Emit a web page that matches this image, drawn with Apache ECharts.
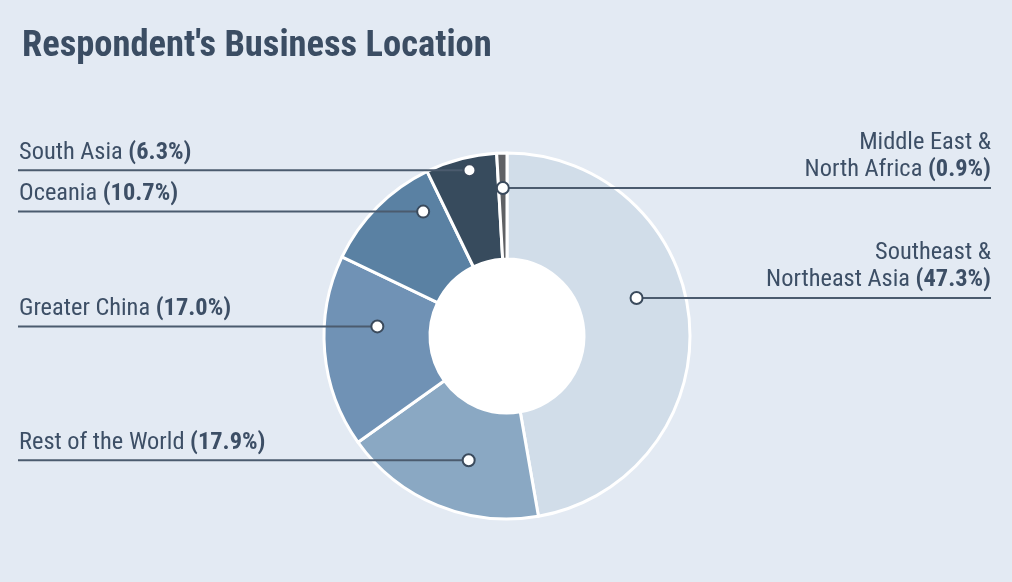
<!DOCTYPE html>
<html><head><meta charset="utf-8">
<script src="https://cdn.jsdelivr.net/npm/echarts@6/dist/echarts.min.js"></script>
<style>html,body{margin:0;padding:0;background:#e3eaf3;}#c{width:1012px;height:582px;}</style>
</head><body><div id="c"></div>
<script>
// ---- data ----
const titleText = "Respondent's Business Location";
const categories = ['Southeast &\nNortheast Asia', 'Rest of the World', 'Greater China', 'Oceania', 'South Asia', 'Middle East &\nNorth Africa'];
const shares = [47.3, 17.9, 17.0, 10.7, 6.3, 0.9];
const sliceColors = ['#d1dde9', '#8aa8c3', '#7092b5', '#5a81a3', '#374b5d', '#5f6165'];

// ---- annotation placement (style/layout, not data) ----
const annSide = ['right', 'left', 'left', 'left', 'left', 'right'];
const annT = [0.433, 0.42, 0.65, 0.79, 0.58, 0.5];
const annR = [135, 130, 130, 150, 170, 148];

const FONT = "'Roboto Condensed','Liberation Sans Narrow','DejaVu Sans Condensed',sans-serif";
const TEXT = '#3d4f66';
const LINE = '#4b5b6e';

const chart = echarts.init(document.getElementById('c'), null, {renderer: 'canvas'});
const CX = 507, CY = 336, R0 = 77, R1 = 183;

chart.setOption({
  backgroundColor: '#e3eaf3',
  animation: false,
  title: {
    text: titleText, left: 17, top: 23,
    textStyle: {fontFamily: FONT, fontSize: 36.5, fontWeight: 'bold', color: '#3b4d63'}
  },
  series: [{
    type: 'pie',
    startAngle: 90,
    clockwise: true,
    center: [CX, CY],
    radius: [R0, R1],
    silent: true,
    label: {show: false},
    labelLine: {show: false},
    itemStyle: {borderColor: '#ffffff', borderWidth: 3},
    data: categories.map((c, i) => ({name: c, value: shares[i], itemStyle: {color: sliceColors[i]}}))
  }]
});

function build() {
  const data = chart.getModel().getSeriesByIndex(0).getData();
  const g = [];
  g.push({type: 'circle', shape: {cx: CX, cy: CY, r: R0 + 2}, style: {fill: '#ffffff'}, z: 1, silent: true});
  for (let i = 0; i < categories.length; i++) {
    const L = data.getItemLayout(i);
    const a = L.startAngle + annT[i] * (L.endAngle - L.startAngle);
    const dx = L.cx + annR[i] * Math.cos(a);
    const dy = L.cy + annR[i] * Math.sin(a);
    const right = annSide[i] === 'right';
    const xEnd = right ? 991 : 18;
    g.push({type: 'line', shape: {x1: xEnd, y1: dy, x2: dx, y2: dy},
      style: {stroke: LINE, lineWidth: 2}, z: 10, silent: true});
    g.push({type: 'circle', shape: {cx: dx, cy: dy, r: 6},
      style: {fill: '#ffffff', stroke: '#3a4a5c', lineWidth: 2}, z: 11, silent: true});
    const parts = categories[i].split('\n');
    const last = parts.pop();
    let txt = parts.map(p => '{n|' + p + '}').join('\n');
    txt += (parts.length ? '\n' : '') + '{n|' + last + ' }{b|(' + shares[i].toFixed(1) + '%)}';
    g.push({type: 'text', x: xEnd + (right ? 0 : 1), y: dy - 4, z: 10, silent: true,
      style: {
        text: txt, align: right ? 'right' : 'left', verticalAlign: 'bottom',
        fontFamily: FONT, fontSize: 24.4, fill: TEXT,
        rich: {
          n: {fontFamily: FONT, fontSize: 24.4, color: TEXT, lineHeight: 27.5},
          b: {fontFamily: FONT, fontSize: 24.4, fontWeight: 'bold', color: TEXT, lineHeight: 27.5}
        }
      }});
  }
  chart.setOption({graphic: g});
}
build();
</script>
</body></html>
